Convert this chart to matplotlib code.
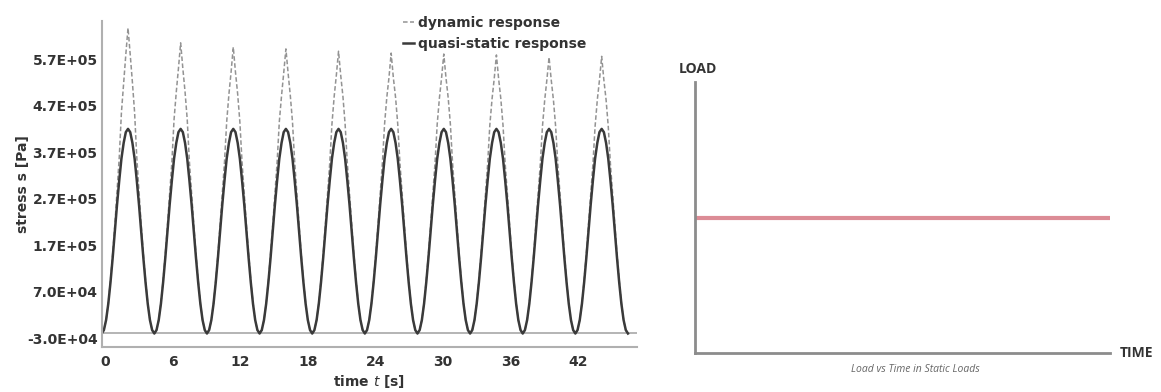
import numpy as np
import matplotlib
matplotlib.use('Agg')
import matplotlib.pyplot as plt

# --- data ---
cycle_start = -0.3          # s, first minimum sits on the y axis
period = 4.67               # s, one load cycle
phase_t = [0.0, 0.195, 0.39, 0.585, 0.78, 0.975, 1.17, 1.36, 1.56, 1.75, 1.95, 2.14,
           2.335, 2.53, 2.725, 2.92, 3.11, 3.31, 3.5, 3.695, 3.89, 4.085, 4.28, 4.475]

# quasi-static stress over one cycle (Pa), same for every cycle
quasi_cycle = [-2.0e4, -1.25e4, 9.0e3, 4.4e4, 9.0e4, 1.43e5, 2.0e5, 2.57e5,
               3.1e5, 3.56e5, 3.9e5, 4.13e5, 4.2e5, 4.13e5, 3.9e5, 3.56e5,
               3.1e5, 2.57e5, 2.0e5, 1.43e5, 9.0e4, 4.4e4, 9.0e3, -1.25e4]

# dynamic response: low part of the cycle (first 7 phases, same as rise of quasi)
dyn_low = [-2.0e4, -1.25e4, 9.0e3, 4.6e4, 9.5e4, 1.52e5, 2.15e5]
# dynamic response near each peak, from 1.0 s before the peak up to the peak
dyn_top = [
    [2.85e5, 3.6e5, 4.55e5, 5.2e5, 5.8e5, 6.37e5],
    [2.8e5, 3.5e5, 4.4e5, 5.0e5, 5.5e5, 6.05e5],
    [2.8e5, 3.5e5, 4.35e5, 4.95e5, 5.42e5, 5.96e5],
    [2.8e5, 3.5e5, 4.35e5, 4.92e5, 5.4e5, 5.92e5],
    [2.8e5, 3.48e5, 4.3e5, 4.9e5, 5.35e5, 5.87e5],
    [2.8e5, 3.48e5, 4.3e5, 4.88e5, 5.3e5, 5.83e5],
    [2.8e5, 3.48e5, 4.3e5, 4.87e5, 5.3e5, 5.81e5],
    [2.8e5, 3.46e5, 4.28e5, 4.85e5, 5.28e5, 5.79e5],
    [2.78e5, 3.45e5, 4.25e5, 4.82e5, 5.25e5, 5.74e5],
    [2.78e5, 3.45e5, 4.25e5, 4.83e5, 5.25e5, 5.76e5],
]
baseline = -1.8e4

ytick_vals = [-3.0e4, 7.0e4, 1.7e5, 2.7e5, 3.7e5, 4.7e5, 5.7e5]
ytick_labels = ['-3.0E+04', '7.0E+04', '1.7E+05', '2.7E+05', '3.7E+05', '4.7E+05', '5.7E+05']
xtick_vals = [0, 6, 12, 18, 24, 30, 36, 42]

# static load schematic
time_span = [0.0, 1.0]
static_load = [0.5, 0.5]

# --- assemble the series cycle by cycle ---
t_all, quasi_all, dyn_all = [], [], []
for c, top in enumerate(dyn_top):
    t0 = cycle_start + c * period
    t_all.extend([t0 + p for p in phase_t])
    quasi_all.extend(quasi_cycle)
    dyn_all.extend(dyn_low + top + top[-2::-1] + dyn_low[:0:-1])
t_all.append(cycle_start + len(dyn_top) * period)
quasi_all.append(quasi_cycle[0])
dyn_all.append(dyn_low[0])

W, H = 1161, 392
fig = plt.figure(figsize=(W / 100, H / 100), dpi=100)

#############################################################
ax = fig.add_axes([101.7 / W, 1 - 347 / H, (637 - 101.7) / W, (347 - 21) / H])
ax.plot(t_all, dyn_all, color='#939393', lw=1.1, dashes=(3, 1.6), label='dynamic response')
ax.plot(t_all, quasi_all, color='#3a3a3a', lw=1.8, label='quasi-static response')
ax.axhline(baseline, color='#a8a8a8', lw=1.2, zorder=0)
ax.set_xlim(-0.3, 47.2)
ax.set_ylim(-4.9e4, 6.52e5)
ax.set_yticks(ytick_vals)
ax.set_yticklabels(ytick_labels)
ax.set_xticks(xtick_vals)
for s in ['top', 'right']:
    ax.spines[s].set_visible(False)
for s in ['left', 'bottom']:
    ax.spines[s].set_color('#b0b0b0')
    ax.spines[s].set_linewidth(1.5)
ax.tick_params(length=0, labelsize=10, labelcolor='#333333')
ax.tick_params(axis='y', pad=3)
ax.tick_params(axis='x', pad=6)
for lab in ax.get_xticklabels() + ax.get_yticklabels():
    lab.set_fontweight('bold')
ax.set_xlabel('time $t$ [s]', fontsize=10, fontweight='bold', color='#333333', labelpad=3)
ax.set_ylabel('stress s [Pa]', fontsize=10, fontweight='bold', color='#333333', labelpad=-2)
leg = ax.legend(loc='upper left', bbox_to_anchor=(396 / W, 1 - 9 / H),
                bbox_transform=fig.transFigure, frameon=False, handlelength=0.8,
                handletextpad=0.3, labelspacing=0.5, borderpad=0,
                prop={'size': 10, 'weight': 'bold'})
for txt in leg.get_texts():
    txt.set_color('#333333')

#############################################################
ax2 = fig.add_axes([695 / W, 1 - 353 / H, (1110 - 695) / W, (353 - 82) / H])
ax2.plot(time_span, static_load, color='#dc8c96', lw=3)
ax2.set_xlim(0, 1)
ax2.set_ylim(0, 1)
ax2.set_xticks([])
ax2.set_yticks([])
for s in ['top', 'right']:
    ax2.spines[s].set_visible(False)
for s in ['left', 'bottom']:
    ax2.spines[s].set_color('#8c8c8c')
    ax2.spines[s].set_linewidth(2)
fig.text(698 / W, 1 - 69 / H, 'LOAD', ha='center', va='center', fontsize=10,
         fontweight='bold', family='Open Sans', color='#333333')
fig.text(1136 / W, 1 - 353 / H, 'TIME', ha='center', va='center', fontsize=10,
         fontweight='bold', family='Open Sans', color='#333333')
fig.text(915 / W, 1 - 369 / H, 'Load vs Time in Static Loads', ha='center', va='center',
         fontsize=7.5, style='italic', family='Open Sans', color='#666666')

fig.savefig('out.png', dpi=100)
